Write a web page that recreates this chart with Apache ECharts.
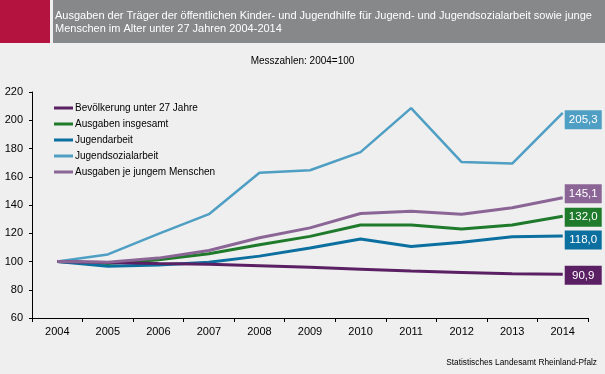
<!DOCTYPE html>
<html>
<head>
<meta charset="utf-8">
<script src="https://cdn.jsdelivr.net/npm/echarts@6/dist/echarts.min.js"></script>
<style>
html,body{margin:0;padding:0;background:#eeefee;}
#chart{width:605px;height:374px;}
</style>
</head>
<body>
<div id="chart"></div>
<script>
const years = ['2004','2005','2006','2007','2008','2009','2010','2011','2012','2013','2014'];
const seriesNames = ['Bevölkerung unter 27 Jahre','Ausgaben insgesamt','Jugendarbeit','Jugendsozialarbeit','Ausgaben je jungem Menschen'];
const bevoelkerung = [100, 99.3, 98.6, 98.0, 97.0, 96.0, 94.6, 93.2, 92.3, 91.3, 90.9];
const ausgabenInsgesamt = [100, 98.5, 101.3, 105.5, 111.8, 117.8, 125.8, 125.8, 123.0, 125.8, 132.0];
const jugendarbeit = [100, 96.7, 97.6, 99.4, 103.8, 109.6, 116.0, 110.6, 113.6, 117.6, 118.0];
const jugendsozialarbeit = [100, 105.0, 119.5, 133.5, 162.8, 164.6, 177.4, 208.6, 170.4, 169.3, 205.3];
const jeJungemMenschen = [100, 99.4, 102.4, 107.8, 116.8, 123.8, 134.0, 135.6, 133.4, 138.0, 145.1];
const yTicks = [60, 80, 100, 120, 140, 160, 180, 200, 220];

const colors = ['#5b2063', '#1f7a2b', '#0b6fa0', '#4f9ec3', '#8b6596'];
const labelOffsets = [[0,1],[0,1],[0,4],[0,7],[0,-4]];
const allData = [bevoelkerung, ausgabenInsgesamt, jugendarbeit, jugendsozialarbeit, jeJungemMenschen];
const widths = [3, 3, 3, 2.5, 3];

const chart = echarts.init(document.getElementById('chart'), null, {renderer:'canvas'});
const font = 'Liberation Sans, Arial, sans-serif';

const series = seriesNames.map((name, i) => ({
  name: name,
  type: 'line',
  data: allData[i],
  showSymbol: false,
  symbol: 'none',
  animation: false,
  lineStyle: {color: colors[i], width: widths[i]},
  itemStyle: {color: colors[i]},
  z: i === 0 ? 6 : 2 + i,
  endLabel: {
    show: true,
    distance: 2,
    offset: labelOffsets[i],
    formatter: p => '{v|' + p.value.toFixed(1).replace('.', ',') + '}',
    backgroundColor: colors[i],
    padding: [3, 5, 3, 5],
    rich: {
      v: {
        color: '#ffffff',
        fontFamily: font,
        fontSize: 11.5,
        width: 27,
        lineHeight: 13,
        align: 'center'
      }
    }
  }
}));

chart.setOption({
  backgroundColor: '#eeefee',
  animation: false,
  grid: {left: 32, right: 17, top: 92, bottom: 56, containLabel: false},
  graphic: [
    {type: 'rect', left: 0, top: 0, shape: {width: 50, height: 43}, style: {fill: '#b5133f'}},
    {type: 'rect', left: 53, top: 0, shape: {width: 552, height: 43}, style: {fill: '#87888a'}},
    {type: 'text', left: 55, top: 9, style: {
      text: 'Ausgaben der Träger der öffentlichen Kinder- und Jugendhilfe für Jugend- und Jugendsozialarbeit sowie junge\nMenschen im Alter unter 27 Jahren 2004-2014',
      fill: '#ffffff', font: '11px ' + font, lineHeight: 13}},
    {type: 'text', left: 'center', top: 56, style: {
      text: 'Messzahlen: 2004=100', fill: '#000000', font: '10px ' + font}},
    {type: 'text', right: 8, top: 359, style: {
      text: 'Statistisches Landesamt Rheinland-Pfalz', fill: '#000000', font: '8.3px ' + font}}
  ],
  legend: {
    orient: 'vertical',
    left: 54,
    top: 102,
    padding: 0,
    itemWidth: 19,
    itemHeight: 3,
    itemGap: 4,
    icon: 'rect',
    data: seriesNames,
    textStyle: {fontFamily: font, fontSize: 10, color: '#000', lineHeight: 12, padding: [0,0,0,-3]}
  },
  xAxis: {
    type: 'category',
    data: years,
    boundaryGap: true,
    axisLine: {lineStyle: {color: '#000', width: 1}},
    axisTick: {show: true, length: 4, lineStyle: {color: '#000'}},
    axisLabel: {color: '#000', fontFamily: font, fontSize: 11, margin: 8},
    splitLine: {show: false}
  },
  yAxis: {
    type: 'value',
    min: yTicks[0],
    max: yTicks[yTicks.length - 1],
    interval: 20,
    axisLine: {show: true, lineStyle: {color: '#000', width: 1}},
    axisTick: {show: true, length: 3, lineStyle: {color: '#000'}},
    axisLabel: {color: '#000', fontFamily: font, fontSize: 11, margin: 9},
    splitLine: {show: false}
  },
  series: series
});
</script>
</body>
</html>
